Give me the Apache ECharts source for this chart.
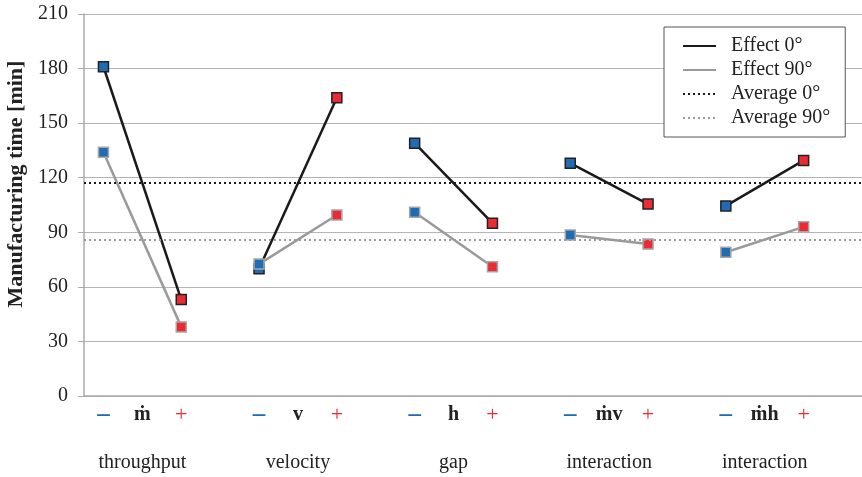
<!DOCTYPE html>
<html><head><meta charset="utf-8">
<script src="https://cdn.jsdelivr.net/npm/echarts@6/dist/echarts.min.js"></script>
<style>html,body{margin:0;padding:0;background:#fff}#c{width:862px;height:477px}</style>
</head><body><div id="c"></div>
<script>
const groups = ['throughput', 'velocity', 'gap', 'interaction', 'interaction'];
const factors = ['ṁ', 'v', 'h', 'ṁv', 'ṁh'];
const effect0Low = [181, 70, 139, 128, 104.5];
const effect0High = [53, 164, 95, 105.5, 129.5];
const effect90Low = [134, 72.5, 101, 88.5, 79];
const effect90High = [38, 99.5, 71, 83.5, 93];
const average0 = 117;
const average90 = 86;
const yTicks = [0, 30, 60, 90, 120, 150, 180, 210];

const FONT = "'Liberation Serif', 'Times New Roman', serif";
const BLUE = '#1f6cb4', RED = '#ec2a33';

const categories = [];
groups.forEach((g, i) => { ['low', 'mid', 'high', 'gap'].forEach(k => categories.push(i + k)); });

const series = [];
series.push({ name: 'Average 0°', type: 'line', data: [], symbol: 'none', lineStyle: { color: '#1a1a1a', width: 2, type: [2, 3] }, itemStyle: { color: '#1a1a1a' },
  markLine: { silent: true, symbol: 'none', label: { show: false }, lineStyle: { color: '#1a1a1a', width: 2, type: [2, 3] }, data: [{ yAxis: average0 }] } });
series.push({ name: 'Average 90°', type: 'line', data: [], symbol: 'none', lineStyle: { color: '#9a9a9a', width: 2, type: [2, 3] }, itemStyle: { color: '#9a9a9a' },
  markLine: { silent: true, symbol: 'none', label: { show: false }, lineStyle: { color: '#9a9a9a', width: 2, type: [2, 3] }, data: [{ yAxis: average90 }] } });

function addEffect(name, low, high, lineColor, border) {
  groups.forEach((g, i) => {
    series.push({
      name: name, type: 'line', symbol: 'rect', symbolSize: 10, z: name === 'Effect 90°' ? 4 : 3,
      lineStyle: { color: lineColor, width: 2.5 },
      itemStyle: { color: lineColor },
      data: [
        { value: [i * 4, low[i]], itemStyle: { color: BLUE, borderColor: border, borderWidth: 1.5 } },
        { value: [i * 4 + 2, high[i]], itemStyle: { color: RED, borderColor: border, borderWidth: 1.5 } }
      ]
    });
  });
}
addEffect('Effect 0°', effect0Low, effect0High, '#1a1a1a', '#222');
addEffect('Effect 90°', effect90Low, effect90High, '#9a9a9a', '#a5a5a5');

const chart = echarts.init(document.getElementById('c'));
chart.setOption({
  animation: false,
  textStyle: { fontFamily: FONT },
  grid: { left: 84, right: 0, top: 14, bottom: 81, containLabel: false, outerBoundsMode: 'none' },
  legend: {
    orient: 'vertical', left: 664, top: 27,
    padding: [8, 15, 8, 18], itemGap: 2, itemWidth: 33, itemHeight: 22,
    backgroundColor: '#fff', borderColor: '#555', borderWidth: 1,
    textStyle: { fontFamily: FONT, fontSize: 20, color: '#222', padding: [0, 0, 0, 10], lineHeight: 22 },
    data: [
      { name: 'Effect 0°', itemStyle: { opacity: 0 } },
      { name: 'Effect 90°', itemStyle: { opacity: 0 } },
      { name: 'Average 0°', itemStyle: { opacity: 0 } },
      { name: 'Average 90°', itemStyle: { opacity: 0 } }
    ]
  },
  xAxis: {
    type: 'category', data: categories, boundaryGap: true,
    axisLine: { lineStyle: { color: '#aaa', width: 1.5 } },
    axisTick: { show: false },
    axisLabel: {
      interval: 0, margin: 8,
      formatter: function (v, idx) {
        const g = Math.floor(idx / 4), k = idx % 4;
        if (k === 0) return '{m|–}';
        if (k === 1) return '{f|' + factors[g] + '}\n{n|' + groups[g] + '}';
        if (k === 2) return '{p|+}';
        return '';
      },
      rich: {
        m: { color: BLUE, fontSize: 25, fontWeight: 'bold', lineHeight: 22, fontFamily: FONT },
        p: { color: RED, fontSize: 22, lineHeight: 22, fontFamily: FONT },
        f: { color: '#222', fontSize: 20, fontWeight: 'bold', lineHeight: 22, fontFamily: FONT },
        n: { color: '#222', fontSize: 20, lineHeight: 74, fontFamily: FONT }
      }
    }
  },
  yAxis: {
    type: 'value', min: yTicks[0], max: yTicks[yTicks.length - 1], interval: yTicks[1] - yTicks[0],
    name: 'Manufacturing time [min]', nameLocation: 'middle', nameGap: 57,
    nameTextStyle: { fontFamily: FONT, fontSize: 22, fontWeight: 'bold', color: '#222', padding: [0, 0, 0, 42] },
    axisLine: { show: true, lineStyle: { color: '#aaa', width: 1.5 } },
    axisTick: { show: true, length: 6, lineStyle: { color: '#aaa' } },
    axisLabel: { margin: 16, fontFamily: FONT, fontSize: 20, color: '#222' },
    splitLine: { lineStyle: { color: '#b5b5b5', width: 1.2 } }
  },
  series: series
});
</script></body></html>
